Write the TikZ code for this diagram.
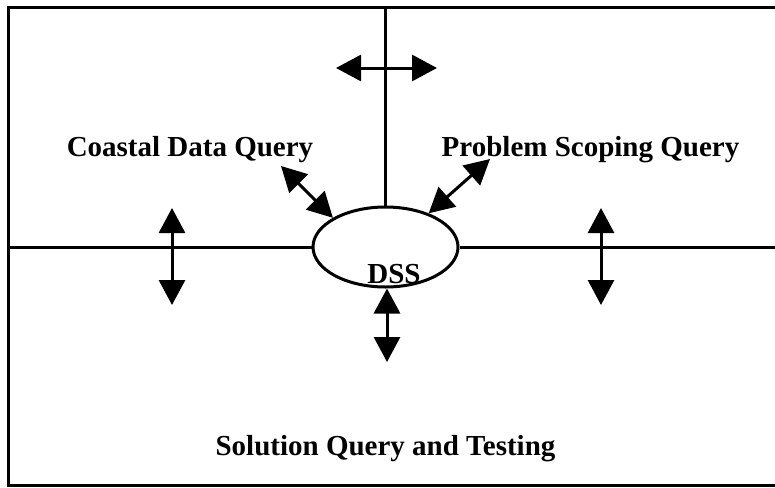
\documentclass[tikz,border=0pt]{standalone}
\usepackage{fontspec}
\setmainfont{Liberation Serif}
\usetikzlibrary{arrows.meta,shapes.geometric}

\tikzstyle{frameline} = [line width=3pt]
\tikzstyle{hub} = [ellipse, draw=black, line width=3pt, minimum width=145pt, minimum height=80pt, inner sep=0pt]
\tikzstyle{label} = [font=\fontsize{29}{34}\selectfont\bfseries, inner sep=0pt, anchor=base]
\tikzstyle{arrow} = [line width=3pt, {Triangle[length=25pt,width=26pt]}-{Triangle[length=25pt,width=26pt]}]

\begin{document}
\begin{tikzpicture}[x=1pt, y=-1pt]
		\clip (0,0) rectangle (775,487);
		\node (dss) [hub] at (385.5,247) {};
		\node (dsstext) [label] at (394,283) {DSS};
		\node (coastal) [label] at (190,156) {Coastal Data Query};
		\node (problem) [label] at (590.5,156) {Problem Scoping Query};
		\node (solution) [label] at (385.5,455) {Solution Query and Testing};

		\coordinate (topmid) at (385.5,8);
		\coordinate (leftmid) at (8,247);
		\coordinate (rightmid) at (790,247);
		\coordinate (topl) at (336,68);
		\coordinate (topr) at (437,68);
		\coordinate (leftup) at (172,208);
		\coordinate (leftdown) at (172,305);
		\coordinate (rightup) at (601,208);
		\coordinate (rightdown) at (601,305);
		\coordinate (coastend) at (281,166);
		\coordinate (probend) at (490,159);
		\coordinate (solend) at (387,362);

		\draw [frameline] (8,8) rectangle (790,485);
		\draw [frameline] (topmid) -- (dss.north);
		\draw [frameline] (leftmid) -- (dss.west);
		\draw [frameline] (dss.east) -- (rightmid);

		\draw [arrow] (topl) -- (topr);
		\draw [arrow] (leftup) -- (leftdown);
		\draw [arrow] (rightup) -- (rightdown);
		\draw [arrow] (coastend) -- (dss.151);
		\draw [arrow] (probend) -- (dss.38);
		\draw [arrow] (dss.south -| solend) -- (solend);
	\end{tikzpicture}
\end{document}
